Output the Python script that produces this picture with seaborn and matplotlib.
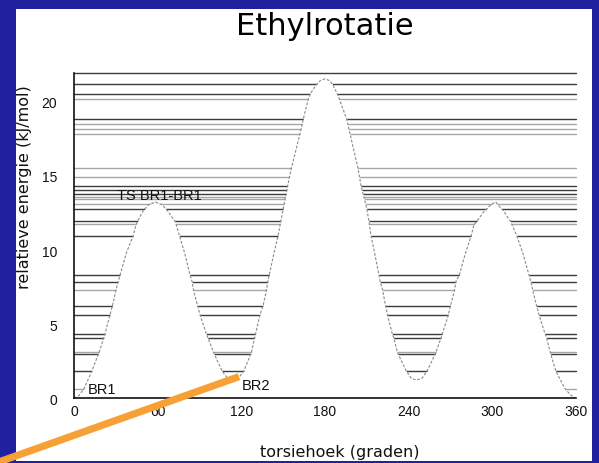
import numpy as np
import pandas as pd
import matplotlib
matplotlib.use("Agg")
import matplotlib.pyplot as plt
import seaborn as sns
from matplotlib.patches import Rectangle

# ---- data ----
torsion_angle = [0, 3.6, 7.2, 12.7, 18.0, 21.4, 22.3, 25.7, 27.6, 30.0, 31.7, 32.9, 37.7, 42.5,
                 44.4, 45.4, 49.2, 53.3, 58.3, 63.4, 67.5, 72.7, 75.6, 79.5, 83.3, 84.7, 85.7,
                 88.6, 90.5, 94.8, 96.0, 100.1, 106.3, 110.2, 113.8, 117.7, 121.7, 127.2,
                 129.6, 130.3, 133.2, 135.6, 138.0, 139.0, 139.9, 143.2, 146.4, 148.3, 150.0,
                 151.9, 152.9, 155.7, 162.0, 164.4, 168.0, 169.2, 174.0, 176.8, 180.0, 182.9,
                 185.5, 188.9, 190.3, 195.6, 198.0, 203.8, 206.1, 207.6, 210.0, 211.5, 212.9,
                 215.8, 218.7, 219.6, 221.3, 223.4, 224.9, 228.2, 229.2, 232.1, 238.3, 241.9,
                 245.5, 249.5, 253.2, 259.4, 263.3, 264.2, 268.3, 270.0, 272.9, 273.8, 276.3,
                 280.6, 284.9, 286.8, 288.5, 294.0, 298.8, 302.4, 304.1, 308.4, 313.2, 317.5,
                 322.0, 326.4, 327.6, 329.0, 331.7, 333.6, 337.7, 338.9, 341.5, 345.6, 352.1,
                 356.4, 360.0]
potential = [0.0, 0.2, 0.65, 1.82, 3.1, 4.09, 4.38, 5.59, 6.26, 7.27, 7.88, 8.28, 9.85, 10.98,
             11.7, 11.9, 12.6, 13.05, 13.25, 13.05, 12.6, 11.9, 10.98, 9.75, 8.28, 7.88, 7.27,
             6.26, 5.59, 4.38, 4.09, 3.1, 1.82, 1.35, 1.2, 1.35, 1.82, 3.1,
             4.09, 4.38, 5.59, 6.26, 7.27, 7.88, 8.28, 9.7, 11.0, 11.96, 12.77,
             13.7, 14.2, 15.45, 17.83, 18.83, 20.18, 20.52, 21.19, 21.45, 21.56, 21.45,
             21.19, 20.52, 20.18, 18.83, 17.83, 15.45, 14.2, 13.7, 12.77, 11.96, 11.0,
             9.7, 8.31, 7.87, 7.3, 6.25, 5.58, 4.37, 4.1, 3.05, 1.84, 1.35,
             1.23, 1.35, 1.84, 3.05, 4.1, 4.37, 5.58, 6.25, 7.3, 7.87, 8.31,
             9.75, 10.98, 11.7, 11.9, 12.6, 13.05, 13.25, 13.05, 12.6, 11.9, 10.98,
             9.75, 8.28, 7.88, 7.27, 6.26, 5.59, 4.38, 4.09, 3.1, 1.82, 0.65,
             0.2, 0.0]

levels_dark = [21.93, 21.19, 20.52, 18.83, 14.32, 14.03, 13.80, 12.77, 11.96, 10.98,
               8.29, 7.87, 6.25, 5.59, 4.37, 4.09, 3.02, 1.83]
levels_light = [20.18, 18.50, 18.16, 17.83, 15.51, 14.92, 13.60, 13.45, 13.11, 11.76,
                7.28, 3.12, 0.65]

x_ticks = [0, 60, 120, 180, 240, 300, 360]
y_ticks = [0, 5, 10, 15, 20]
y_minor = [2.5, 7.5, 12.5, 17.5]

label_text = ["TS BR1-BR1", "BR1", "BR2"]
label_x = [61.4, 20.4, 130.3]
label_y = [13.73, 0.66, 0.91]

pointer_x = [-54.0, 118.3]
pointer_y = [-4.3, 1.46]

df = pd.DataFrame({"torsiehoek": torsion_angle, "energie": potential})

# ---- figure ----
sns.set_style("white")
plt.rcParams["font.family"] = ["DejaVu Sans"]

fig = plt.figure(figsize=(5.99, 4.64), dpi=100)
fig.patch.set_facecolor("#2121a0")
panel = Rectangle((16 / 599, 1 - 461.7 / 464), 576 / 599, 451.7 / 464,
                  transform=fig.transFigure, facecolor="white", edgecolor="none")
panel.set_zorder(-10)
fig.add_artist(panel)

ax = fig.add_axes([74 / 599, 64.7 / 464, 502 / 599, 325.3 / 464])
ax.set_zorder(5)
ax.patch.set_alpha(0)
ax.set_xlim(0, 360)
ax.set_ylim(0, 21.95)

for e in levels_dark:
    ax.axhline(e, color="#3c3c3c", lw=1.0, zorder=1, clip_on=False)
for e in levels_light:
    ax.axhline(e, color="#a6a6a6", lw=1.0, zorder=1, clip_on=False)

ax.fill_between(df["torsiehoek"], 0, df["energie"], color="white", lw=0, zorder=2)
sns.lineplot(data=df, x="torsiehoek", y="energie", ax=ax, color="#8a8a8a", lw=0.8,
             linestyle=(0, (2.5, 1.5)), zorder=3, sort=False)

for t, x, y in zip(label_text, label_x, label_y):
    ax.text(x, y, t, ha="center", va="center", fontsize=10.5, zorder=5,
            family=["Liberation Sans Narrow", "Liberation Sans"], color="#111111")

ax.plot(pointer_x, pointer_y, color="#f7a035", lw=5.2, solid_capstyle="butt",
        clip_on=False, zorder=6)

ax.set_xticks(x_ticks)
ax.set_yticks(y_ticks)
ax.set_yticks(y_minor, minor=True)
ax.set_xticklabels([str(v) for v in x_ticks], family="Liberation Sans", fontsize=10)
ax.set_yticklabels([str(v) for v in y_ticks], family="Liberation Sans", fontsize=10)
ax.tick_params(axis="x", length=0, pad=4, colors="#111111")
ax.tick_params(axis="y", which="major", direction="in", length=5, width=1.5, pad=12,
               colors="#111111")
ax.tick_params(axis="y", which="minor", direction="in", length=2.5, width=1.0)
ax.set_xlabel("")
ax.set_ylabel("")

for side in ["top", "right"]:
    ax.spines[side].set_visible(False)
for side in ["left", "bottom"]:
    ax.spines[side].set_color("#111111")
    ax.spines[side].set_linewidth(1.2)
    ax.spines[side].set_zorder(4)

fig.text(325 / 599, 1 - 35 / 464, "Ethylrotatie", ha="center", va="baseline",
         fontsize=22, color="black")
fig.text(25 / 599, 1 - 187.5 / 464, "relatieve energie (kJ/mol)", rotation=90,
         ha="center", va="center", fontsize=11.5, color="#111111")
fig.text(340 / 599, 1 - 457.5 / 464, "torsiehoek (graden)", ha="center", va="baseline",
         fontsize=11.5, color="#111111")

fig.savefig("out.png", dpi=100, facecolor=fig.get_facecolor())
